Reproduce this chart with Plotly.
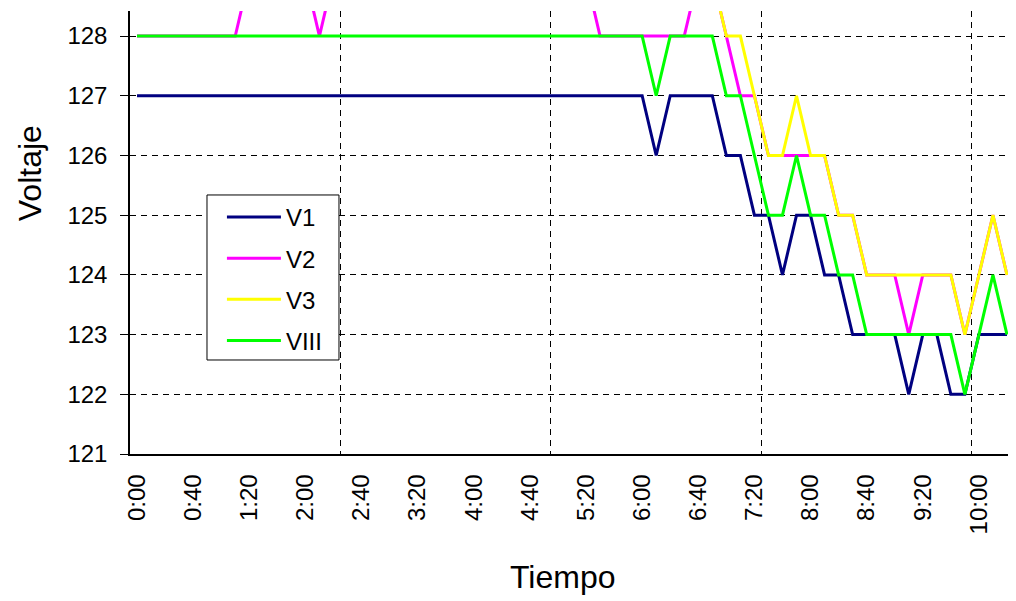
import plotly.graph_objects as go

times = ["0:00", "0:10", "0:20", "0:30", "0:40", "0:50", "1:00", "1:10", "1:20", "1:30",
         "1:40", "1:50", "2:00", "2:10", "2:20", "2:30", "2:40", "2:50", "3:00", "3:10",
         "3:20", "3:30", "3:40", "3:50", "4:00", "4:10", "4:20", "4:30", "4:40", "4:50",
         "5:00", "5:10", "5:20", "5:30", "5:40", "5:50", "6:00", "6:10", "6:20", "6:30",
         "6:40", "6:50", "7:00", "7:10", "7:20", "7:30", "7:40", "7:50", "8:00", "8:10",
         "8:20", "8:30", "8:40", "8:50", "9:00", "9:10", "9:20", "9:30", "9:40", "9:50",
         "10:00", "10:10", "10:20"]

v1 = [127, 127, 127, 127, 127, 127, 127, 127, 127, 127,
      127, 127, 127, 127, 127, 127, 127, 127, 127, 127,
      127, 127, 127, 127, 127, 127, 127, 127, 127, 127,
      127, 127, 127, 127, 127, 127, 127, 126, 127, 127,
      127, 127, 126, 126, 125, 125, 124, 125, 125, 124,
      124, 123, 123, 123, 123, 122, 123, 123, 122, 122,
      123, 123, 123]
v2 = [128, 128, 128, 128, 128, 128, 128, 128, 129, 129,
      129, 129, 129, 128, 129, 129, 129, 129, 129, 129,
      129, 129, 129, 129, 129, 129, 129, 129, 129, 129,
      129, 129, 129, 128, 128, 128, 128, 128, 128, 128,
      129, 129, 128, 127, 127, 126, 126, 126, 126, 126,
      125, 125, 124, 124, 124, 123, 124, 124, 124, 123,
      124, 125, 124]
v3 = [129, 129, 129, 129, 129, 129, 129, 129, 129, 129,
      129, 129, 129, 129, 129, 129, 129, 129, 129, 129,
      129, 129, 129, 129, 129, 129, 129, 129, 129, 129,
      129, 129, 129, 129, 129, 129, 129, 129, 129, 129,
      129, 129, 128, 128, 127, 126, 126, 127, 126, 126,
      125, 125, 124, 124, 124, 124, 124, 124, 124, 123,
      124, 125, 124]
viii = [128, 128, 128, 128, 128, 128, 128, 128, 128, 128,
        128, 128, 128, 128, 128, 128, 128, 128, 128, 128,
        128, 128, 128, 128, 128, 128, 128, 128, 128, 128,
        128, 128, 128, 128, 128, 128, 128, 127, 128, 128,
        128, 128, 127, 127, 126, 125, 125, 126, 125, 125,
        124, 124, 123, 123, 123, 123, 123, 123, 123, 122,
        123, 124, 123]

names = ["V1", "V2", "V3", "VIII"]
colors = ["#000080", "#FF00FF", "#FFFF00", "#00FF00"]

idx = list(range(len(times)))
label_pos = idx[::4]
label_txt = times[::4]
grid_pos = [14.5, 29.5, 44.5, 59.5]
tick_pos = [-0.5, 29.5, 59.5]

font = "Arial, Liberation Sans, sans-serif"

fig = go.Figure()
for name, ys, c in zip(names, [v1, v2, v3, viii], colors):
    fig.add_trace(go.Scatter(x=idx, y=ys, name=name, mode="lines",
                             line=dict(color=c, width=3), legendgroup=name))

# page body has an 8px margin, so the figure is shifted by that much
fig.update_layout(
    width=1008, height=593,
    margin=dict(l=122, r=2, t=3, b=147),
    paper_bgcolor="white", plot_bgcolor="white",
    font=dict(family=font, size=24, color="black"),
    showlegend=True,
    legend=dict(x=0.104, y=0.585, xanchor="left", yanchor="top",
                bgcolor="rgba(0,0,0,0)", borderwidth=0,
                font=dict(size=24), tracegroupgap=7, itemwidth=54),
    xaxis=dict(range=[-0.5, 62.5], tickmode="array", tickvals=label_pos, ticktext=label_txt,
               tickangle=-90, ticks="", showgrid=False, zeroline=False, automargin=False,
               showline=True, linecolor="black", linewidth=1.5, ticklabelstandoff=9,
               minor=dict(tickmode="array", tickvals=grid_pos, showgrid=True,
                          gridcolor="black", gridwidth=1, griddash="6px,5px", ticks="")),
    xaxis2=dict(overlaying="x", matches="x", range=[-0.5, 62.5], tickmode="array",
                tickvals=tick_pos, ticks="outside", ticklen=7, tickcolor="black",
                showticklabels=False, showgrid=False, zeroline=False, showline=False,
                automargin=False),
    yaxis=dict(range=[121, 128.42], tick0=121, dtick=1, ticks="outside", ticklen=8,
               tickcolor="black", showline=True, linecolor="black", linewidth=1.5,
               showgrid=True, gridcolor="black", gridwidth=1, griddash="6px,5px",
               zeroline=False, ticklabelstandoff=8, automargin=False),
    annotations=[
        dict(text="Voltaje", xref="paper", yref="paper", x=-0.113, y=0.634,
             textangle=-90, showarrow=False, font=dict(size=32),
             xanchor="center", yanchor="middle"),
        dict(text="Tiempo", xref="paper", yref="paper", x=0.49, y=-0.278,
             showarrow=False, font=dict(size=32), xanchor="center", yanchor="middle"),
    ],
    shapes=[
        dict(type="line", xref="paper", yref="paper", x0=1, x1=1, y0=0, y1=1,
             line=dict(color="#808080", width=2)),
        # legend frame
        dict(type="rect", xref="paper", yref="paper", x0=0.0871, x1=0.2364,
             y0=0.2122, y1=0.5847, fillcolor="white", layer="above",
             line=dict(color="black", width=1)),
    ],
)

fig.write_html("out.html")
